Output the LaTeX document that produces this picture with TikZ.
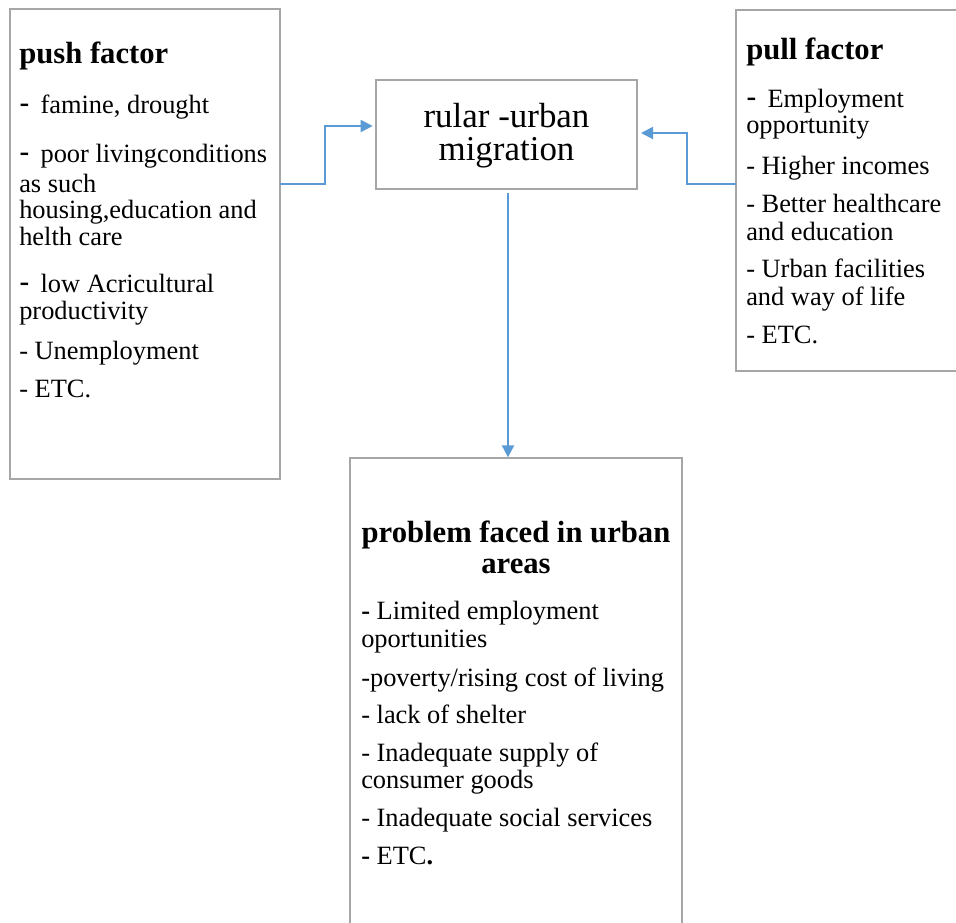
\documentclass[tikz,border=0pt]{standalone}
\usepackage{fontspec}
\setmainfont{Liberation Serif}
\newfontfamily\dashfont{Liberation Sans}
\usetikzlibrary{arrows.meta}
\definecolor{boxgray}{HTML}{A6A6A6}
\definecolor{arrblue}{HTML}{5B9BD5}
\newcommand\bdash{{\dashfont\fontsize{23}{20}\selectfont -}\hspace{0.42em}}
\newcommand\bbdash{\textbf{-}}
\begin{document}
\begin{tikzpicture}[x=0.75pt,y=-0.75pt,
  box/.style={draw=boxgray,line width=1.5pt,inner sep=0pt,outer sep=0pt,anchor=north west},
  arr/.style={draw=arrblue,line width=1.5pt,-{Triangle[length=9pt,width=9pt]}},
  txt/.style={anchor=base west,inner sep=0pt,font=\fontsize{19.8}{20}\selectfont},
  head/.style={anchor=base,inner sep=0pt,font=\fontsize{23}{24}\selectfont\bfseries},
  ctxt/.style={anchor=base,inner sep=0pt,font=\fontsize{26.2}{26}\selectfont}]
\useasboundingbox (0,0) rectangle (956,922);
% boxes
\node[box,minimum width=202.5pt,minimum height=352.5pt] (push) at (10,9) {};
\node[box,minimum width=168pt,minimum height=270.75pt] (pull) at (736,10) {};
\node[box,minimum width=195.75pt,minimum height=81.75pt] (center) at (376,80) {};
\node[box,minimum width=249pt,minimum height=354pt] (problem) at (350,458) {};
% center text
\node[ctxt] (c1) at (506.5,127) {rular -urban};
\node[ctxt] (c2) at (506.5,160) {migration};
% push factor
\node[head,anchor=base west] (puh) at (19,63) {push factor};
\foreach \y/\t [count=\i] in {113/{\bdash famine, drought},
  162/{\bdash poor livingconditions},
  192/{as such},
  218/{housing,education and},
  245/{helth care},
  292/{\bdash low Acricultural},
  319/{productivity},
  359/{- Unemployment},
  397/{- ETC.}}
  {\node[txt] (pu\i) at (19,\y) {\t};}
% pull factor
\node[head,anchor=base west] (plh) at (746,59) {pull factor};
\foreach \y/\t [count=\i] in {107/{\bdash Employment},
  133/{opportunity},
  174/{- Higher incomes},
  212/{- Better healthcare},
  240/{and education},
  277/{- Urban facilities},
  305/{and way of life},
  343/{- ETC.}}
  {\node[txt] (pl\i) at (746,\y) {\t};}
% problems
\node[head] (prh1) at (516,542) {problem faced in urban};
\node[head] (prh2) at (516,573) {areas};
\foreach \y/\t [count=\i] in {619/{\bbdash{} Limited employment},
  647/{oportunities},
  686/{-poverty/rising cost of living},
  723/{- lack of shelter},
  761/{- Inadequate supply of},
  788/{consumer goods},
  826/{- Inadequate social services},
  864/{\bbdash{} ETC\textbf{.}}}
  {\node[txt] (pr\i) at (361,\y) {\t};}
% connectors
\draw[arr,shorten >=2.5pt] (push.north east |- 0,184) -- (325,184) -- (325,126) -- (center.west |- 0,126);
\draw[arr,shorten >=3pt] (pull.north west |- 0,184) -- (687,184) -- (687,133) -- (center.east |- 0,133);
\draw[arr,shorten <=3pt,shorten >=0.5pt] (center.south -| 508,0) -- (problem.north -| 508,0);
\end{tikzpicture}
\end{document}
